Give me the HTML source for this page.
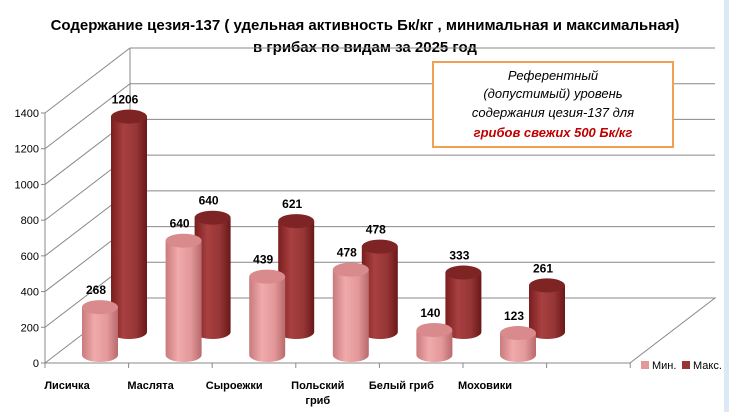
<!DOCTYPE html>
<html><head><meta charset="utf-8"><style>
body{margin:0;background:#fff;}
svg{display:block;font-family:"Liberation Sans","DejaVu Sans",sans-serif;}
</style></head><body>
<svg id="c" width="729" height="412" viewBox="0 0 729 412">
<defs>
<linearGradient id="gMin" x1="0" x2="1" y1="0" y2="0">
<stop offset="0" stop-color="#c97a7c"/><stop offset="0.35" stop-color="#f0aaab"/><stop offset="0.7" stop-color="#e39899"/><stop offset="1" stop-color="#b86a6c"/></linearGradient>
<linearGradient id="gMax" x1="0" x2="1" y1="0" y2="0">
<stop offset="0" stop-color="#7a1e1e"/><stop offset="0.35" stop-color="#a84040"/><stop offset="0.7" stop-color="#963636"/><stop offset="1" stop-color="#6a1818"/></linearGradient>
</defs>
<rect x="724" y="0" width="5" height="412" fill="#dde8f5"/>
<text x="365" y="30" text-anchor="middle" font-size="15" font-weight="bold">Содержание цезия-137 ( удельная активность Бк/кг , минимальная и максимальная)</text>
<text x="365" y="52" text-anchor="middle" font-size="15" font-weight="bold">в грибах по видам за 2025 год</text>
<g id="grid"></g>
<g id="bars"></g>
<g id="axis"></g>
<g>
<rect x="433" y="62" width="240" height="85" fill="#fff" stroke="#f0a050" stroke-width="2"/>
<text x="553" y="80" text-anchor="middle" font-size="13" font-style="italic">Референтный</text>
<text x="553" y="98" text-anchor="middle" font-size="13" font-style="italic">(допустимый) уровень</text>
<text x="553" y="117" text-anchor="middle" font-size="13" font-style="italic">содержания цезия-137 для</text>
<text x="553" y="137" text-anchor="middle" font-size="13" font-style="italic" font-weight="bold" fill="#c00000">грибов свежих 500 Бк/кг</text>
</g>
<g>
<rect x="641" y="361" width="8" height="8" fill="#e39899"/>
<text x="652" y="369" font-size="11">Мин.</text>
<rect x="682" y="361" width="8" height="8" fill="#963636"/>
<text x="693" y="369" font-size="11">Макс.</text>
</g>
</svg>
<script>
const categories=["Лисичка","Маслята","Сыроежки","Польский гриб","Белый гриб","Моховики"];
const minValues=[268,640,439,478,140,123];
const maxValues=[1206,640,621,478,333,261];
const yTicks=[0,200,400,600,800,1000,1200,1400];
const NS="http://www.w3.org/2000/svg";
const scale=250/1400;
const x0=45,y0=363,dx=85,dy=-65,slot=83.6;
function mk(t,a,p){const e=document.createElementNS(NS,t);for(const k in a)e.setAttribute(k,a[k]);p.appendChild(e);return e;}
const grid=document.getElementById('grid'),axis=document.getElementById('axis'),bars=document.getElementById('bars');
const yv=v=>y0-v*scale;
// walls
yTicks.forEach(v=>{
  const l=mk('path',{d:`M${x0} ${yv(v)} L${x0+dx} ${yv(v)+dy}`+(v>0?` L715 ${yv(v)+dy}`:''),stroke:'#888',fill:'none','stroke-width':1},grid);
  
  
  const t=mk('text',{x:x0-6,y:yv(v)+4,'text-anchor':'end','font-size':11},axis);
  t.textContent=v;
  
  
  mk('line',{x1:x0-4,x2:x0,y1:yv(v),y2:yv(v),stroke:'#888'},axis);
});
mk('path',{d:`M${x0} ${yv(1400)} L${x0} ${y0} L630 ${y0} L715 ${y0+dy} L${x0+dx} ${y0+dy}`,stroke:'#888',fill:'none'},grid);
mk('line',{x1:x0+dx,y1:yv(1400)+dy,x2:x0+dx,y2:y0+dy,stroke:'#888'},grid);
for(let i=0;i<=7;i++){mk('line',{x1:x0+i*slot,x2:x0+i*slot,y1:y0,y2:y0+5,stroke:'#888'},axis);}
function cyl(cx,by,v,fill,label,name){
  const g=mk('g',{},bars);
  
  
  const w=18,ry=7,ty=by-v*scale;
  mk('path',{d:`M${cx-w} ${ty} L${cx-w} ${by} A${w} ${ry} 0 0 0 ${cx+w} ${by} L${cx+w} ${ty} Z`,fill:`url(#${fill})`},g);
  mk('ellipse',{cx:cx,cy:ty,rx:w,ry:ry,fill:fill=='gMin'?'#d88a8c':'#7e2424'},g);
  const t=mk('text',{x:cx-4,y:ty-13,'text-anchor':'middle','font-size':12,'font-weight':'bold'},g);
  t.textContent=label;
}
categories.forEach((c,i)=>{
  const cxMin=100+i*slot, cxMax=129+i*slot;
  cyl(cxMax,332,maxValues[i],'gMax',maxValues[i],'bar-max-'+i);
  cyl(cxMin,355,minValues[i],'gMin',minValues[i],'bar-min-'+i);
  const parts=c.split(' ');
  const lx=x0+i*slot+22;
  const t=mk('text',{x:lx,y:389,'font-size':11,'font-weight':'bold','text-anchor':'middle'},axis);
  
  
  if(c==="Польский гриб"){t.textContent="Польский";const t2=mk('text',{x:lx,y:404,'font-size':11,'font-weight':'bold','text-anchor':'middle'},axis);t2.textContent="гриб";}
  else t.textContent=c;
});
</script>
</body></html>
